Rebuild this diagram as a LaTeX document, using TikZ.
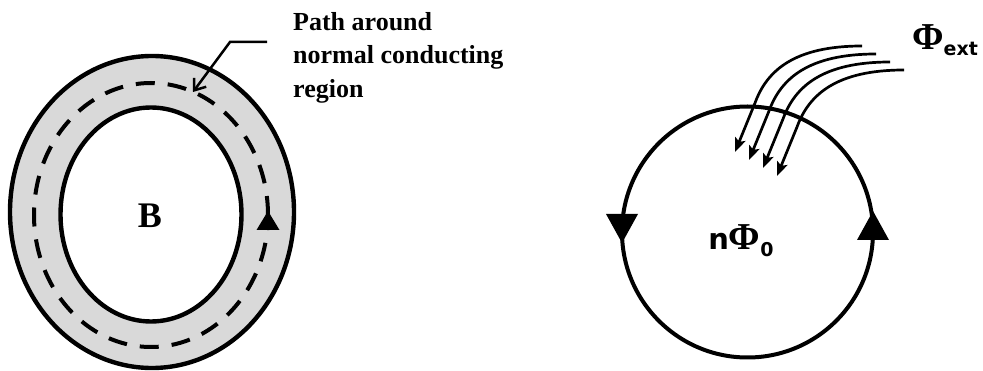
\documentclass[tikz,border=0pt]{standalone}
\usepackage{fontspec}
\setmainfont{Liberation Serif}
\newfontfamily\greeksans{DejaVu Sans}
\usetikzlibrary{arrows.meta}

\tikzset{
  wall/.style={line width=4.4pt},
  loopline/.style={line width=4pt},
  pathline/.style={line width=4pt, dash pattern=on 19pt off 13pt},
  fluxline/.style={line width=2.7pt, -{Stealth[length=14pt,width=11pt,inset=3pt]}},
  leader/.style={line width=2.5pt, -{Straight Barb[length=10pt,width=15pt]}},
  head/.style={fill=black},
  serifbold/.style={font=\bfseries\fontsize{26}{33.5}\selectfont},
}

\begin{document}
\begin{tikzpicture}[x=1pt,y=-1pt]
\useasboundingbox (0,0) rectangle (983,371);

% ---------- left: superconducting ring with normal region ----------
\fill[gray!30] (152,212) ellipse [x radius=142pt, y radius=156pt];
\fill[white] (151,214.5) ellipse [x radius=90.5pt, y radius=107pt];
\draw[wall] (152,212) ellipse [x radius=142pt, y radius=156pt];
\draw[wall] (151,214.5) ellipse [x radius=90.5pt, y radius=107pt];
\draw[pathline] (151,215) ellipse [x radius=117pt, y radius=132pt];
% direction of the integration path
\fill[head] (268,211) -- (256.5,230) -- (279.5,230) -- cycle;

\node[font=\bfseries\fontsize{36}{36}\selectfont, anchor=base, inner sep=0] (B) at (150,228) {B};

\node[serifbold, anchor=north west, inner sep=0, align=left] (label) at (293,12)
  {Path around\\normal conducting\\region};
\coordinate (lbend) at (230,42);
\coordinate (lstart) at (267,42);
\coordinate (ltip) at (193,92);
\draw[leader] (lstart) -- (lbend) -- (ltip);

% ---------- right: loop threaded by external flux ----------
\draw[loopline] (747.5,232) circle [radius=125.5pt];
\fill[head] (622,243) -- (606,214) -- (638,214) -- cycle;
\fill[head] (873,211) -- (857,240) -- (889,240) -- cycle;

\node[anchor=base, inner sep=0] (nphi) at (741,250)
  {{\greeksans\bfseries\fontsize{29}{29}\selectfont n}{\bfseries\fontsize{38}{38}\selectfont Φ}\raisebox{-7pt}{\greeksans\bfseries\fontsize{19}{19}\selectfont 0}};

\node[anchor=base west, inner sep=0] (phiext) at (912,50)
  {{\bfseries\fontsize{38}{38}\selectfont Φ}\raisebox{-6pt}{\greeksans\bfseries\fontsize{19}{19}\selectfont ext}};

\foreach \i in {0,1,2,3} {
  \begin{scope}[shift={(14*\i,8*\i)}]
    \draw[fluxline] (862,46) .. controls (795,46) and (767,70) .. (755,103) -- (735,152);
  \end{scope}
}
\end{tikzpicture}
\end{document}
